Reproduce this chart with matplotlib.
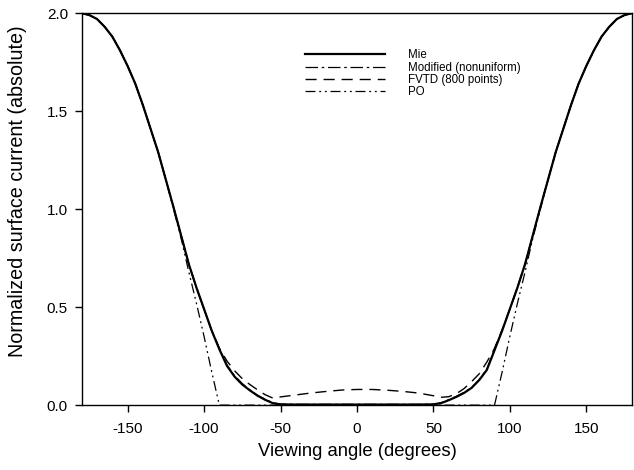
import matplotlib
matplotlib.use("Agg")
import matplotlib.pyplot as plt

# values (degrees, normalized current)
angle = [-180, -175, -170, -165, -160, -155, -150, -145, -140, -135, -130, -125,
         -120, -115, -110, -105, -100, -95, -90, -85, -80, -75, -70, -65, -60, -55, -50,
         -40, -30, -20, -10, 0, 10, 20, 30, 40,
         50, 55, 60, 65, 70, 75, 80, 85, 90, 95, 100, 105, 110, 115, 120,
         125, 130, 135, 140, 145, 150, 155, 160, 165, 170, 175, 180]

mie = [2.00, 1.99, 1.97, 1.93, 1.88, 1.81, 1.73, 1.64, 1.53, 1.41, 1.29, 1.15,
       1.01, 0.865, 0.72, 0.60, 0.49, 0.38, 0.285, 0.20, 0.145, 0.105, 0.075, 0.048, 0.027, 0.010, 0.004,
       0.003, 0.003, 0.003, 0.003, 0.003, 0.003, 0.003, 0.003, 0.003,
       0.004, 0.010, 0.025, 0.042, 0.062, 0.088, 0.128, 0.18, 0.28, 0.38, 0.49, 0.60, 0.72, 0.865, 1.01,
       1.15, 1.29, 1.41, 1.53, 1.64, 1.73, 1.81, 1.88, 1.93, 1.97, 1.99, 2.00]

modified = [2.00, 1.99, 1.97, 1.93, 1.88, 1.81, 1.73, 1.64, 1.53, 1.41, 1.29, 1.15,
            1.01, 0.865, 0.72, 0.60, 0.49, 0.38, 0.29, 0.205, 0.15, 0.11, 0.078, 0.05, 0.03, 0.012, 0.005,
            0.004, 0.004, 0.004, 0.004, 0.004, 0.004, 0.004, 0.004, 0.004,
            0.005, 0.012, 0.028, 0.045, 0.065, 0.09, 0.13, 0.185, 0.285, 0.38, 0.49, 0.60, 0.72, 0.865, 1.01,
            1.15, 1.29, 1.41, 1.53, 1.64, 1.73, 1.81, 1.88, 1.93, 1.97, 1.99, 2.00]

fvtd = [2.00, 1.99, 1.97, 1.93, 1.88, 1.81, 1.73, 1.64, 1.53, 1.41, 1.29, 1.15,
        1.01, 0.865, 0.72, 0.60, 0.49, 0.38, 0.29, 0.225, 0.175, 0.135, 0.105, 0.078, 0.053, 0.036, 0.042,
        0.052, 0.062, 0.070, 0.077, 0.080, 0.080, 0.076, 0.070, 0.062,
        0.048, 0.040, 0.043, 0.058, 0.084, 0.12, 0.16, 0.22, 0.29, 0.385, 0.49, 0.60, 0.72, 0.865, 1.01,
        1.15, 1.29, 1.41, 1.53, 1.64, 1.73, 1.81, 1.88, 1.93, 1.97, 1.99, 2.00]

po = [2.00, 1.99, 1.97, 1.93, 1.88, 1.81, 1.73, 1.64, 1.53, 1.41, 1.29, 1.15,
      1.00, 0.85, 0.68, 0.52, 0.35, 0.17, 0.0, 0.0, 0.0, 0.0, 0.0, 0.0, 0.0, 0.0, 0.0,
      0.0, 0.0, 0.0, 0.0, 0.0, 0.0, 0.0, 0.0, 0.0,
      0.0, 0.0, 0.0, 0.0, 0.0, 0.0, 0.0, 0.0, 0.0, 0.17, 0.35, 0.52, 0.68, 0.85, 1.00,
      1.15, 1.29, 1.41, 1.53, 1.64, 1.73, 1.81, 1.88, 1.93, 1.97, 1.99, 2.00]

labels = ["Mie", "Modified (nonuniform)", "FVTD (800 points)", "PO"]

plt.rcParams['font.family'] = ['Liberation Sans', 'DejaVu Sans']
plt.rcParams['axes.unicode_minus'] = False

fig = plt.figure(figsize=(6.34, 4.70), dpi=100)
ax = fig.add_axes([0.129, 0.138, 0.868, 0.834])

ax.plot(angle, mie, color='black', lw=1.6, ls='-', label=labels[0])
ax.plot(angle, modified, color='black', lw=0.9, ls=(0, (10, 3, 2, 3)), label=labels[1])
ax.plot(angle, fvtd, color='black', lw=1.0, ls=(0, (8, 5)), label=labels[2])
ax.plot(angle, po, color='black', lw=0.9, ls=(0, (8, 3, 1.5, 3, 1.5, 3)), label=labels[3])

ax.set_xlim(-180, 180)
ax.set_ylim(0, 2.0)
ax.set_xticks([-150, -100, -50, 0, 50, 100, 150])
ax.set_yticks([0.0, 0.5, 1.0, 1.5, 2.0])
ax.set_yticklabels(["0.0", "0.5", "1.0", "1.5", "2.0"])
ax.tick_params(direction='out', length=5, width=1, labelsize=11, pad=5)
ax.tick_params(axis='x', pad=7)
for s in ax.spines.values():
    s.set_linewidth(1.0)

ax.set_xlabel("Viewing angle (degrees)", fontsize=13.3, labelpad=5)
ax.set_ylabel("Normalized surface current (absolute)", fontsize=14.2)
ax.yaxis.set_label_coords(-0.10, 0.545)

leg = ax.legend(loc='upper left', bbox_to_anchor=(0.405, 0.908), frameon=False,
                fontsize=8.3, handlelength=7.0, handletextpad=2.0, labelspacing=0.03,
                borderpad=0, borderaxespad=0)

fig.savefig("out.png", dpi=100)
